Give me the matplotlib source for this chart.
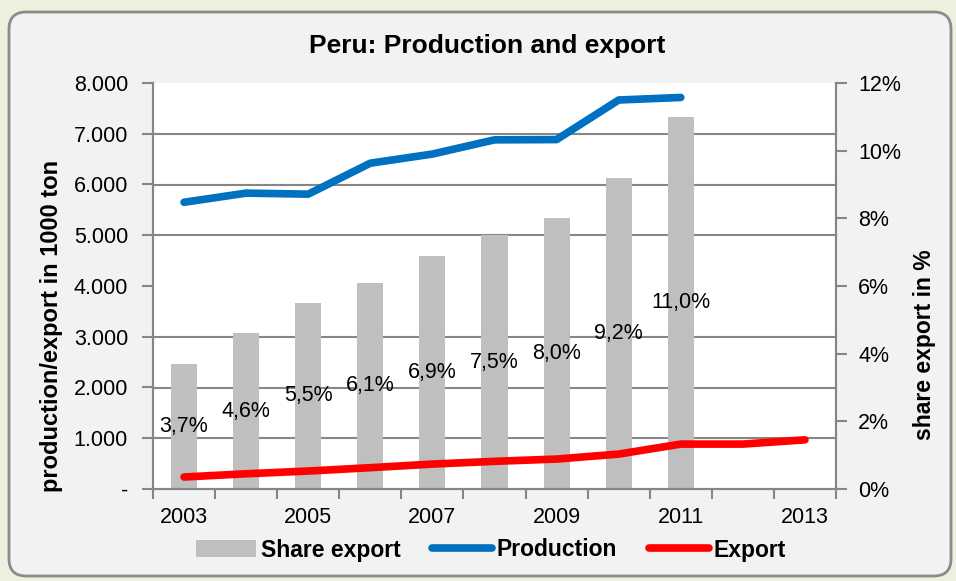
import matplotlib.pyplot as plt
import numpy as np
from matplotlib.patches import FancyBboxPatch

plt.rcParams['font.family'] = ['Liberation Sans', 'DejaVu Sans']

# data
years = [2003, 2004, 2005, 2006, 2007, 2008, 2009, 2010, 2011, 2012, 2013]
share_export = [3.7, 4.6, 5.5, 6.1, 6.9, 7.5, 8.0, 9.2, 11.0]          # %
production = [5650, 5830, 5810, 6420, 6600, 6880, 6885, 7665, 7715]     # 1000 ton
export = [236, 300, 354, 420, 491, 545, 590, 688, 885, 885, 969]        # 1000 ton
share_labels = ['3,7%', '4,6%', '5,5%', '6,1%', '6,9%', '7,5%', '8,0%', '9,2%', '11,0%']
left_ticks = [0, 1000, 2000, 3000, 4000, 5000, 6000, 7000, 8000]
left_labels = ['-', '1.000', '2.000', '3.000', '4.000', '5.000', '6.000', '7.000', '8.000']
right_ticks = [0, 2, 4, 6, 8, 10, 12]
right_labels = ['0%', '2%', '4%', '6%', '8%', '10%', '12%']

grey = '#868686'
tick_fs = 15.5

fig = plt.figure(figsize=(9.56, 5.81), dpi=100)
fig.patch.set_facecolor('#EBF1DE')
panel = FancyBboxPatch((9 / 956, 5 / 581), 942 / 956, 564 / 581,
                       boxstyle='round,pad=0,rounding_size=0.018',
                       transform=fig.transFigure, facecolor='#F2F2F2',
                       edgecolor='#8C8C8C', linewidth=2, mutation_aspect=956 / 581,
                       zorder=-10)
fig.patches.append(panel)

rect = [153 / 956, 92 / 581, 683 / 956, 406 / 581]
ax2 = fig.add_axes(rect)          # share (right axis), drawn below
ax = ax2.twinx()                  # tonnes, drawn on top
ax.set_zorder(ax2.get_zorder() + 1)
ax.patch.set_visible(False)
ax2.set_facecolor('white')

x = np.arange(len(years))
xs = x[:len(share_export)]

# bars on the percentage axis
bars = ax2.bar(xs, share_export, width=0.42, color='#BFBFBF', zorder=2, label='Share export')
ax2.bar_label(bars, labels=share_labels, label_type='center', fontsize=tick_fs)
ax2.set_ylim(0, 12)
ax2.yaxis.tick_right()
ax2.set_yticks(right_ticks)
ax2.set_yticklabels(right_labels, fontsize=tick_fs)
# gridlines matching the left axis, kept behind the bars
ax2.set_yticks(np.array(left_ticks) / 8000 * 12, minor=True)
ax2.grid(which='minor', axis='y', color=grey, linewidth=1.5)
ax2.set_axisbelow(True)
ax2.tick_params(axis='y', which='minor', length=0)
ax2.tick_params(axis='y', which='major', direction='out', length=8, width=1.5,
                color=grey, pad=8)

# lines on the tonnes axis
ax.plot(xs, production, color='#0070C0', linewidth=5.5, solid_capstyle='round',
        solid_joinstyle='round', label='Production')
ax.plot(x, export, color='#FF0000', linewidth=5.5, solid_capstyle='round',
        solid_joinstyle='round', label='Export')
ax.set_ylim(0, 8000)
ax.yaxis.tick_left()
ax.set_yticks(left_ticks)
ax.set_yticklabels(left_labels, fontsize=tick_fs)
ax.tick_params(axis='y', direction='out', length=8, width=1.5, color=grey, pad=10)

# category axis: tick marks between categories, labels every other year
for a in (ax, ax2):
    a.set_xlim(-0.5, len(years) - 0.5)
    for s in a.spines.values():
        s.set_color(grey)
        s.set_linewidth(1.5)
    a.spines['top'].set_visible(False)
ax2.set_xticks(np.arange(-0.5, len(years), 1.0))
ax2.set_xticklabels([])
ax2.set_xticks(x[::2], minor=True)
ax2.set_xticklabels([str(y) for y in years[::2]], minor=True, fontsize=tick_fs)
ax2.tick_params(axis='x', which='major', direction='out', length=7, width=1.5, color=grey)
ax2.tick_params(axis='x', which='minor', length=0, pad=13)
ax.tick_params(axis='x', which='both', length=0, labelbottom=False)

# titles and axis labels
fig.text(487 / 956, 535 / 581, 'Peru: Production and export', ha='center', va='center',
         fontsize=19, fontweight='bold')
fig.text(52 / 956, 1 - 326 / 581, 'production/export in 1000 ton', rotation=90,
         ha='center', va='center', fontsize=17, fontweight='bold')
fig.text(924 / 956, 1 - 345 / 581, 'share export in %', rotation=90,
         ha='center', va='center', fontsize=16.5, fontweight='bold')

handles = [bars, ax.lines[0], ax.lines[1]]
fig.legend(handles, ['Share export', 'Production', 'Export'], loc='center',
           bbox_to_anchor=(491 / 956, 31 / 581), ncol=3, frameon=False,
           prop={'size': 16.5, 'weight': 'bold'}, handlelength=2.6, handleheight=0.7,
           handletextpad=0.2, columnspacing=1.4)

fig.savefig('out.png', dpi=100, facecolor=fig.get_facecolor())
